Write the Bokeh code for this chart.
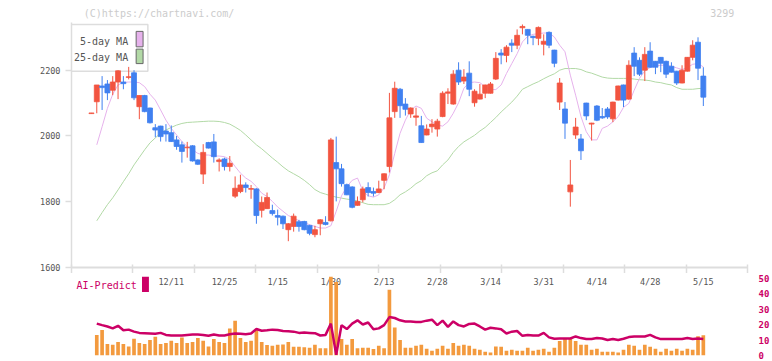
from bokeh.plotting import figure
from bokeh.layouts import column
from bokeh.models import Range1d, FixedTicker
from bokeh.core.properties import value
from bokeh.embed import file_html
from bokeh.resources import INLINE

nan = float("nan")

# ---------------- data ----------------
opens = [2068, 2104, 2152, 2158, 2139, 2164, 2164, 2178, 2192, 2089,
         2123, 2085, 2025, 2030, 2015, 2010, 1988, 1973, 1964, 1970,
         1927, 1884, 1980, 1982, 1922, 1930, 1907, 1817, 1831, 1851,
         1838, 1839, 1774, 1779, 1773, 1758, 1756, 1715, 1725, 1739,
         1740, 1728, 1700, 1733, 1737, 1742, 1919, 1900, 1852, 1845,
         1789, 1806, 1843, 1831, 1828, 1865, 1907, 2074, 2142, 2097,
         2067, 2057, 2031, 2003, 2028, 2021, 2059, 2130, 2097, 2200,
         2167, 2191, 2101, 2112, 2130, 2130, 2173, 2252, 2245, 2282,
         2276, 2329, 2324, 2303, 2297, 2279, 2315, 2261, 2103, 2082,
         1830, 2003, 1991, 2100, 2036, 2091, 2059, 2082, 2052, 2109,
         2155, 2112, 2252, 2230, 2200, 2258, 2227, 2239, 2227, 2212,
         2197, 2161, 2197, 2239, 2285, 2182]
highs = [2070, 2155, 2182, 2170, 2182, 2200, 2182, 2210, 2200, 2123,
         2125, 2086, 2036, 2031, 2036, 2032, 2000, 1983, 1982, 1972,
         1929, 1975, 1982, 2006, 1932, 1934, 1939, 1877, 1882, 1859,
         1851, 1841, 1816, 1828, 1791, 1776, 1758, 1735, 1764, 1745,
         1742, 1730, 1727, 1747, 1756, 1994, 1998, 1915, 1855, 1847,
         1816, 1846, 1859, 1843, 1864, 1886, 2131, 2165, 2146, 2115,
         2087, 2086, 2061, 2035, 2051, 2052, 2136, 2145, 2200, 2224,
         2203, 2227, 2142, 2158, 2156, 2164, 2255, 2264, 2276, 2294,
         2324, 2339, 2325, 2305, 2333, 2309, 2318, 2262, 2176, 2103,
         1927, 2055, 2006, 2101, 2040, 2094, 2085, 2088, 2104, 2153,
         2156, 2230, 2270, 2239, 2270, 2285, 2228, 2240, 2229, 2224,
         2198, 2215, 2240, 2291, 2300, 2209]
lows = [2068, 2069, 2079, 2109, 2124, 2112, 2142, 2172, 2109, 2051,
        2072, 2038, 1996, 1983, 1983, 1982, 1958, 1919, 1934, 1922,
        1912, 1854, 1962, 1919, 1892, 1895, 1892, 1811, 1826, 1828,
        1809, 1733, 1752, 1778, 1758, 1728, 1717, 1680, 1709, 1709,
        1713, 1698, 1692, 1698, 1728, 1740, 1801, 1846, 1820, 1780,
        1788, 1798, 1816, 1816, 1826, 1838, 1889, 2055, 2055, 2062,
        2055, 2031, 1979, 2002, 2010, 1998, 2057, 2097, 2095, 2155,
        2158, 2121, 2089, 2111, 2115, 2129, 2170, 2218, 2224, 2255,
        2264, 2309, 2279, 2276, 2276, 2245, 2267, 2209, 2079, 1991,
        1785, 1991, 1927, 2048, 1986, 2045, 2052, 2052, 2042, 2108,
        2088, 2110, 2182, 2182, 2167, 2208, 2188, 2194, 2176, 2193,
        2155, 2160, 2196, 2230, 2170, 2091]
closes = [2070, 2155, 2147, 2131, 2164, 2198, 2159, 2180, 2116, 2123,
          2074, 2040, 2018, 1998, 2006, 1983, 1968, 1953, 1966, 1924,
          1914, 1950, 1963, 1937, 1927, 1907, 1917, 1841, 1851, 1843,
          1840, 1758, 1798, 1813, 1764, 1753, 1733, 1733, 1756, 1725,
          1715, 1704, 1715, 1745, 1731, 1988, 1900, 1855, 1821, 1783,
          1801, 1839, 1828, 1826, 1839, 1885, 2055, 2145, 2092, 2081,
          2085, 2061, 1980, 2021, 2036, 2045, 2130, 2134, 2188, 2164,
          2179, 2142, 2136, 2127, 2155, 2158, 2236, 2246, 2270, 2276,
          2306, 2333, 2306, 2299, 2330, 2288, 2276, 2221, 2161, 2039,
          1851, 2027, 1955, 2061, 2039, 2048, 2055, 2058, 2103, 2152,
          2109, 2215, 2212, 2188, 2248, 2209, 2209, 2221, 2188, 2194,
          2161, 2200, 2239, 2276, 2206, 2118]
ma5 = [nan, 1973, 2028, 2084, 2127, 2155, 2163, 2164, 2164, 2162,
       2150, 2127, 2109, 2079, 2048, 2023, 2003, 1983, 1968, 1958,
       1947, 1942, 1942, 1939, 1939, 1937, 1929, 1907, 1887, 1872,
       1862, 1846, 1826, 1816, 1801, 1784, 1771, 1758, 1751, 1742,
       1737, 1730, 1725, 1720, 1720, 1727, 1771, 1818, 1846, 1865,
       1872, 1833, 1818, 1814, 1821, 1842, 1882, 1947, 2008, 2048,
       2079, 2091, 2084, 2054, 2043, 2033, 2030, 2043, 2069, 2101,
       2145, 2162, 2164, 2162, 2150, 2141, 2141, 2155, 2190, 2220,
       2250, 2286, 2303, 2309, 2311, 2313, 2313, 2301, 2276, 2256,
       2185, 2124, 2059, 2013, 1988, 1988, 2023, 2030, 2043, 2059,
       2087, 2099, 2139, 2175, 2198, 2208, 2213, 2215, 2215, 2212,
       2207, 2202, 2208, 2218, 2220, 2210]
ma25 = [nan, 1742, 1767, 1791, 1812, 1836, 1861, 1885, 1912, 1935,
        1958, 1979, 1994, 2009, 2018, 2026, 2033, 2038, 2041, 2042,
        2043, 2044, 2045, 2045, 2044, 2041, 2036, 2027, 2017, 2003,
        1988, 1973, 1961, 1947, 1933, 1920, 1906, 1894, 1885, 1876,
        1865, 1852, 1837, 1828, 1823, 1818, 1814, 1811, 1808, 1806,
        1802, 1797, 1792, 1791, 1791, 1791, 1795, 1806, 1821, 1830,
        1841, 1855, 1864, 1879, 1888, 1894, 1912, 1927, 1950, 1968,
        1982, 1992, 2002, 2015, 2026, 2041, 2056, 2073, 2088, 2103,
        2121, 2142, 2150, 2158, 2165, 2174, 2182, 2189, 2200, 2205,
        2205, 2205, 2202, 2195, 2191, 2185, 2179, 2176, 2175, 2175,
        2175, 2175, 2173, 2171, 2170, 2168, 2164, 2162, 2158, 2155,
        2147, 2142, 2142, 2142, 2144, 2145]
volume = [nan, 13.3, 16.5, 7.5, 6.9, 8.75, 7.5, 5.8, 10.8, 8.1,
          7.5, 10, 12.1, 7.5, 8.1, 9.6, 8.1, 11.7, 8.1, 8.75,
          11.25, 9.6, 5.8, 10.6, 8.75, 8.1, 17.5, 22.5, 11.25, 8.75,
          9.6, 16.5, 8.75, 6.7, 6.25, 6.9, 7.1, 8.75, 5.6, 5.6,
          5.4, 5, 6.9, 4.6, 4.6, 55, 47.5, 10.6, 6.9, 10.6,
          4.6, 5, 5, 4.2, 6.25, 4.6, 42.5, 18.1, 10, 5,
          5, 6.25, 6.9, 4.4, 3.1, 4.4, 6.25, 4.4, 8.1, 6.25,
          6.9, 6.25, 4.4, 3.75, 2.5, 1.9, 5.8, 5.6, 3.1, 3.75,
          3.1, 3.1, 5, 3.1, 3.75, 4.4, 2.5, 5, 9.4, 11.25,
          11.25, 9.4, 6.9, 6.9, 3.75, 4.4, 2.5, 2.5, 2.5, 1.9,
          3.75, 6.9, 6.25, 3.75, 6.9, 5.6, 4.4, 2.5, 4.4, 3.1,
          4.4, 3.1, 4.4, 3.75, 12.5, 13.1]
ai_predict = [nan, 20.6, 19.6, 18.7, 17.5, 19.2, 16.3, 16.7, 15.4, 14.6,
              14.4, 14.2, 14, 14.6, 13.3, 12.9, 12.9, 12.9, 13.3, 13.5,
              13.5, 13.3, 12.7, 13.5, 12.9, 12.9, 13.75, 14.2, 14, 13.75,
              14.2, 17.1, 16, 16.3, 16.7, 16.5, 15.8, 15.6, 15.4, 14.6,
              14.8, 14.6, 14.4, 12.9, 13.3, 20.6, 0.5, 19.6, 17.1, 20.6,
              22.7, 20, 21.3, 16.9, 17.5, 19.6, 24.8, 24.2, 22.7, 22,
              22, 21.7, 21.7, 22.5, 23.1, 19.6, 22.5, 18.5, 22, 19.6,
              18.75, 20.4, 20.6, 18.75, 16.7, 17.9, 17.5, 16.9, 14.2, 15.4,
              15.8, 12.7, 13.3, 12.9, 12.9, 14.6, 11.7, 10.8, 11, 11,
              11, 12.3, 11.25, 10.6, 10.6, 11.25, 11, 10, 10.6, 10,
              10.8, 11.9, 12.3, 12.3, 12.3, 13.3, 11.7, 10.6, 10.6, 10.6,
              10.6, 10.6, 11.25, 10.6, 11, 10.6]
date_labels = ["12/11", "12/25", "1/15", "1/30", "2/13", "2/28",
               "3/14", "3/31", "4/14", "4/28", "5/15"]
date_label_index = [15, 25, 35, 45, 55, 65, 75, 85, 95, 105, 115]
price_ticks = [1600, 1800, 2000, 2200]
ai_ticks = [0, 10, 20, 30, 40, 50]
legend_names = ["5-day MA", "25-day MA"]
copyright_text = "(C)https://chartnavi.com/"
code_text = "3299"

# ---------------- styling ----------------
FONT = "DejaVu Sans Mono"
RED = "#f25440"
BLUE = "#4080f0"
PINK = "#e6b2ec"
GREEN = "#b2d9a6"
ORANGE = "#f39a3e"
MAGENTA = "#cc0066"
AXIS = "#dddddd"
TXT = "#555555"
W = 772

idx = list(range(len(closes)))
colors = [RED if c >= o else BLUE for o, c in zip(opens, closes)]
body_top = [max(o, c) for o, c in zip(opens, closes)]
body_bot = [min(o, c) for o, c in zip(opens, closes)]

x_range = Range1d(-3.75, 123.3)


def bare(p):
    p.xgrid.grid_line_color = None
    p.ygrid.grid_line_color = None
    p.outline_line_color = None
    p.background_fill_color = "white"
    p.border_fill_color = "white"


# ---------------- header strip (copyright / code) ----------------
p0 = figure(width=W, height=20, x_range=Range1d(0, W), y_range=Range1d(20, 0),
            output_backend="svg", toolbar_location=None,
            x_axis_location=None, y_axis_location=None,
            min_border_left=0, min_border_right=0, min_border_top=0, min_border_bottom=0)
bare(p0)
p0.text(x=14, y=12.5, text=[copyright_text], text_font=value(FONT), text_font_size="10px",
        text_color="#cccccc", text_align="left", text_baseline="middle")
p0.text(x=757, y=12.5, text=[code_text], text_font=value(FONT), text_font_size="10px",
        text_color="#cccccc", text_align="right", text_baseline="middle")

# ---------------- price panel ----------------
p1 = figure(width=W, height=253, x_range=x_range, y_range=Range1d(1600, 2345),
            output_backend="svg", toolbar_location=None,
            min_border_left=71, min_border_right=20, min_border_top=2, min_border_bottom=6)
bare(p1)

yax = p1.yaxis[0]
yax.ticker = FixedTicker(ticks=price_ticks)
yax.axis_line_color = AXIS
yax.axis_line_width = 1.5
yax.major_tick_line_color = AXIS
yax.major_tick_line_width = 1.5
yax.major_tick_in = 0
yax.major_tick_out = 6
yax.minor_tick_line_color = None
yax.major_label_text_font = FONT
yax.major_label_text_font_size = "8.5px"
yax.major_label_text_color = TXT
yax.major_label_standoff = 5

xax = p1.xaxis[0]
span = x_range.end - x_range.start
xax.ticker = FixedTicker(ticks=[], minor_ticks=[x_range.start + span * j / 11 for j in range(12)])
xax.axis_line_color = AXIS
xax.axis_line_width = 2
xax.major_tick_line_color = None
xax.minor_tick_line_color = AXIS
xax.minor_tick_line_width = 1.5
xax.minor_tick_in = 3
xax.minor_tick_out = 6
xax.major_label_text_font_size = "0px"
xax.major_label_standoff = 0

# legend box (drawn first so candles sit on top)
p1.quad(left=-3.9, right=10.6, top=2339, bottom=2197, fill_color="white",
        line_color=AXIS, line_width=1.5)
p1.text(x=6.9, y=[2288, 2240], text=legend_names, text_font=value(FONT),
        text_font_size="10px", text_color=TXT, text_align="right", text_baseline="middle")
p1.quad(left=8.4, right=9.7, top=[2318, 2264], bottom=[2271, 2220],
        fill_color=[PINK, GREEN], line_color="#666666", line_width=1)

p1.line(idx, ma25, color=GREEN, line_width=1)
p1.line(idx, ma5, color=PINK, line_width=1)

p1.segment(x0=idx, y0=highs, x1=idx, y1=lows, color=colors, line_width=1)
p1.vbar(x=idx, top=body_top, bottom=body_bot, width=0.93,
        fill_color=colors, line_color=colors, line_width=0.8)

# ---------------- volume / AI-Predict panel ----------------
p2 = figure(width=W, height=88, x_range=x_range, y_range=Range1d(0, 51),
            output_backend="svg", toolbar_location=None,
            x_axis_location=None, y_axis_location="right",
            min_border_left=71, min_border_right=20, min_border_top=3, min_border_bottom=6)
bare(p2)

rax = p2.yaxis[0]
rax.ticker = FixedTicker(ticks=ai_ticks)
rax.axis_line_color = None
rax.major_tick_line_color = None
rax.minor_tick_line_color = None
rax.major_label_text_font = FONT
rax.major_label_text_font_size = "9px"
rax.major_label_text_font_style = "bold"
rax.major_label_text_color = MAGENTA
rax.major_label_standoff = 5

p2.text(x=date_label_index, y=47.3, text=date_labels, text_font=value(FONT),
        text_font_size="8.5px", text_color=TXT, text_align="center", text_baseline="middle")
p2.vbar(x=idx, top=volume, bottom=0, width=0.69, fill_color=ORANGE, line_color=None)
p2.line(idx, ai_predict, color=MAGENTA, line_width=2.5)

p2.text(x=-2.8, y=45.3, text=["AI-Predict"], text_font=value(FONT), text_font_size="10px",
        text_color=MAGENTA, text_align="left", text_baseline="middle")
p2.quad(left=9.5, right=10.8, top=51, bottom=41, fill_color=MAGENTA, line_color=None)

layout = column(p0, p1, p2, spacing=0)
open("out.html", "w").write(file_html(layout, INLINE))
